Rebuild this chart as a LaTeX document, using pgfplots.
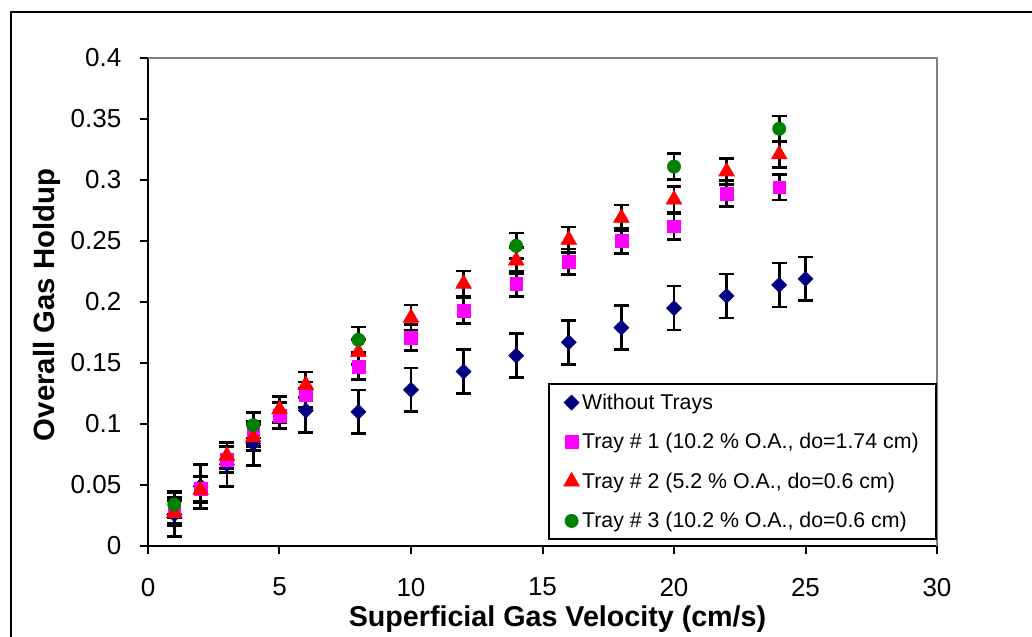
\documentclass[border=0pt]{standalone}
\usepackage{fontspec}
\setmainfont{Liberation Sans}
\usepackage{pgfplots}
\pgfplotsset{compat=1.18}
\usepackage{pgfplotstable}
\definecolor{navyc}{HTML}{000080}
\definecolor{tmag}{HTML}{FF00FF}
\definecolor{tred}{HTML}{FF0000}
\definecolor{tgreen}{HTML}{008000}
\definecolor{spine}{HTML}{808080}

\pgfplotstableread{
x y e
1 0.026 0.018
2 0.049 0.018
3 0.067 0.018
4 0.084 0.018
6 0.111 0.018
8 0.110 0.018
10 0.128 0.018
12 0.143 0.018
14 0.156 0.018
16 0.167 0.018
18 0.179 0.018
20 0.195 0.018
22 0.205 0.018
24 0.214 0.018
25 0.219 0.018
}\notrays

\pgfplotstableread{
x y e
1 0.029 0.0105
2 0.047 0.0105
3 0.071 0.0105
4 0.092 0.0105
5 0.107 0.0105
6 0.124 0.0105
8 0.147 0.0105
10 0.171 0.0105
12 0.193 0.0105
14 0.215 0.0105
16 0.233 0.0105
18 0.250 0.0105
20 0.262 0.0105
22 0.289 0.0105
24 0.294 0.0105
}\trayone

\pgfplotstableread{
x y e
1 0.027 0.0105
2 0.046 0.0105
3 0.074 0.0105
4 0.089 0.0105
5 0.112 0.0105
6 0.132 0.0105
8 0.159 0.0105
10 0.187 0.0105
12 0.215 0.0105
14 0.234 0.0105
16 0.251 0.0105
18 0.269 0.0105
20 0.284 0.0105
22 0.307 0.0105
24 0.321 0.0105
}\traytwo

\pgfplotstableread{
x y e
1 0.034 0.0105
4 0.099 0.0105
8 0.169 0.0105
14 0.246 0.0105
20 0.311 0.0105
24 0.342 0.0105
}\traythree

\begin{document}
\begin{tikzpicture}
\useasboundingbox (-111pt,-67.5pt) rectangle (663pt,409.5pt);
\draw[line width=1.5pt] (-102.75pt,-80pt) -- (-102.75pt,400.5pt) -- (680pt,400.5pt);
\begin{axis}[
  scale only axis, width=591.75pt, height=366pt,
  xmin=0, xmax=30, ymin=0, ymax=0.4,
  axis x line*=bottom, axis y line*=left,
  axis line style={-, line width=1.5pt, black},
  xtick={0,5,10,15,20,25,30},
  ytick={0,0.05,0.1,0.15,0.2,0.25,0.3,0.35,0.4},
  yticklabels={0,0.05,0.1,0.15,0.2,0.25,0.3,0.35,0.4},
  /pgf/number format/assume math mode=true,
  tick align=outside, major tick length=6pt,
  tick style={line width=1.5pt, black},
  ticklabel style={font=\fontsize{19.5}{22}\selectfont},
  yticklabel style={xshift=-10.5pt},
  xticklabel style={yshift=-14.5pt},
  xlabel={Superficial Gas Velocity (cm/s)},
  ylabel={Overall Gas Holdup},
  xlabel style={at={(axis description cs:0.519,-0.164)}, anchor=base, font=\fontsize{21.5}{24}\selectfont\bfseries},
  ylabel style={at={(axis description cs:-0.1185,0.494)}, anchor=base, rotate=0, font=\fontsize{22}{25}\selectfont\bfseries},
  legend cell align=left,
  legend style={at={(1,0.0123)}, anchor=south east, draw=black, line width=1.5pt,
    font=\fontsize{16}{19}\selectfont, row sep=12.5pt, inner xsep=11pt, inner ysep=5pt},
  error bars/y dir=both, error bars/y explicit,
  error bars/error bar style={line width=2pt, black},
  error bars/error mark options={rotate=90, mark size=5.6pt, line width=2pt, black},
  clip=false,
]
\addplot[only marks, mark=square*, mark size=4pt, mark options={rotate=45, fill=navyc, draw=navyc, line width=0.4pt}]
  table[x=x, y=y, y error=e] {\notrays};
\addlegendentry{Without Trays}
\addplot[only marks, mark=square*, mark size=4.8pt, mark options={fill=tmag, draw=tmag, line width=0.4pt}]
  table[x=x, y=y, y error=e] {\trayone};
\addlegendentry{Tray \# 1 (10.2 \% O.A., do=1.74 cm)}
\addplot[only marks, mark=triangle*, mark size=6.8pt, mark options={fill=tred, draw=tred, line width=0.4pt}]
  table[x=x, y=y, y error=e] {\traytwo};
\addlegendentry{Tray \# 2 (5.2 \% O.A., do=0.6 cm)}
\addplot[only marks, mark=*, mark size=5pt, mark options={fill=tgreen, draw=tgreen, line width=0.4pt}]
  table[x=x, y=y, y error=e] {\traythree};
\addlegendentry{Tray \# 3 (10.2 \% O.A., do=0.6 cm)}
\draw[spine, line width=1.5pt] (rel axis cs:0,1) -- (rel axis cs:1,1) -- (rel axis cs:1,0);
\end{axis}
\end{tikzpicture}
\end{document}
